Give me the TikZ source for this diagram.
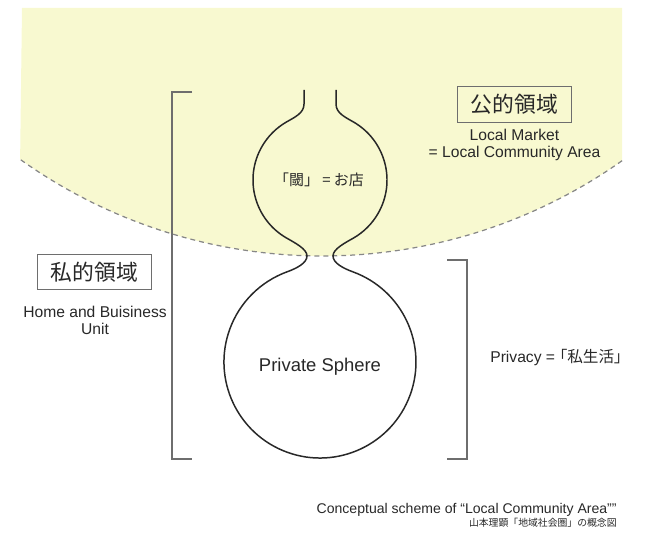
\documentclass[tikz,border=0pt]{standalone}
\usepackage{fontspec}
\setmainfont{Liberation Sans}
\newfontfamily\jp{Noto Sans CJK JP}
\newfontfamily\jpnarrow[RawFeature=+palt]{Noto Sans CJK JP}
\usepackage{tikz}
\definecolor{publicyellow}{RGB}{248,249,208}
\definecolor{linedark}{RGB}{40,40,40}
\definecolor{linegray}{RGB}{110,110,110}
\definecolor{dashgray}{RGB}{135,135,135}
\tikzset{
	domainbox/.style={draw=linegray, line width=0.6pt, inner sep=0pt, minimum width=65pt, minimum height=20pt, font=\jp\fontsize{12.4}{14}\selectfont},
	infotext/.style={text=linedark, inner sep=0pt, align=center, font=\fontsize{8.9}{9.7}\selectfont},
	bracket/.style={draw=linegray, line width=0.6pt},
}

\begin{document}
\begin{tikzpicture}[x=0.02cm, y=-0.02cm, text=linedark]
			\useasboundingbox (0,0) rectangle (649,547);
			\fill[publicyellow] (22,8) -- (622,8) -- (622.1,160.7) arc[start angle=54.76, end angle=125.5, radius=520] -- cycle;
			\draw[dashgray, line width=0.7pt, dash pattern=on 2.8pt off 2.3pt] (622.1,160.7) arc[start angle=54.76, end angle=125.5, radius=520];
			
			\draw[linedark, line width=0.85pt] (336,90) -- (336,104) .. controls (336,113) and (344.8,117) .. (353.5,122)
				arc[start angle=-60, end angle=60, radius=67]
				.. controls (344.8,243) and (333,249) .. (333,256)
				.. controls (333,263) and (343.4,268.4) .. (352.8,271.8)
				arc[start angle=-70, end angle=250, radius=96]
				.. controls (296.6,268.4) and (307,263) .. (307,256)
				.. controls (307,249) and (295.2,243) .. (286.5,238)
				arc[start angle=120, end angle=240, radius=67]
				.. controls (295.2,117) and (304,113) .. (304,104) -- (304,90);
			
			\draw[bracket] (192,92) -- (172,92) -- (172,459) -- (192,459);
			\draw[bracket] (447,260) -- (467,260) -- (467,459) -- (447,459);
			
			\draw (514.5,104.5) node[domainbox] (public) {公的領域};
			\draw (514.5,144.5) node[infotext] (market) {Local Market\\= Local Community Area};
			\draw (94.5,272) node[domainbox] (private) {私的領域};
			\draw (95,320.5) node[infotext] (home) {Home and Buisiness\\Unit};
			\draw (319,180) node[infotext, font=\jp\fontsize{8.5}{10}\selectfont] (threshold) {「閾」 = お店};
			\draw (320,367) node[infotext, font=\fontsize{10.5}{12}\selectfont] (sphere) {Private Sphere};
			\draw (490,358) node[infotext, anchor=west] (privacy) {Privacy = {\jpnarrow 「私生活」}};
			
			\draw (617,510) node[infotext, anchor=east, font=\fontsize{8}{9}\selectfont] (caption) {Conceptual scheme of “Local Community Area”"};
			\draw (617,523) node[infotext, anchor=east, font=\jp\fontsize{5.6}{6.5}\selectfont] (source) {山本理顕「地域社会圏」の概念図};
		\end{tikzpicture}
\end{document}
